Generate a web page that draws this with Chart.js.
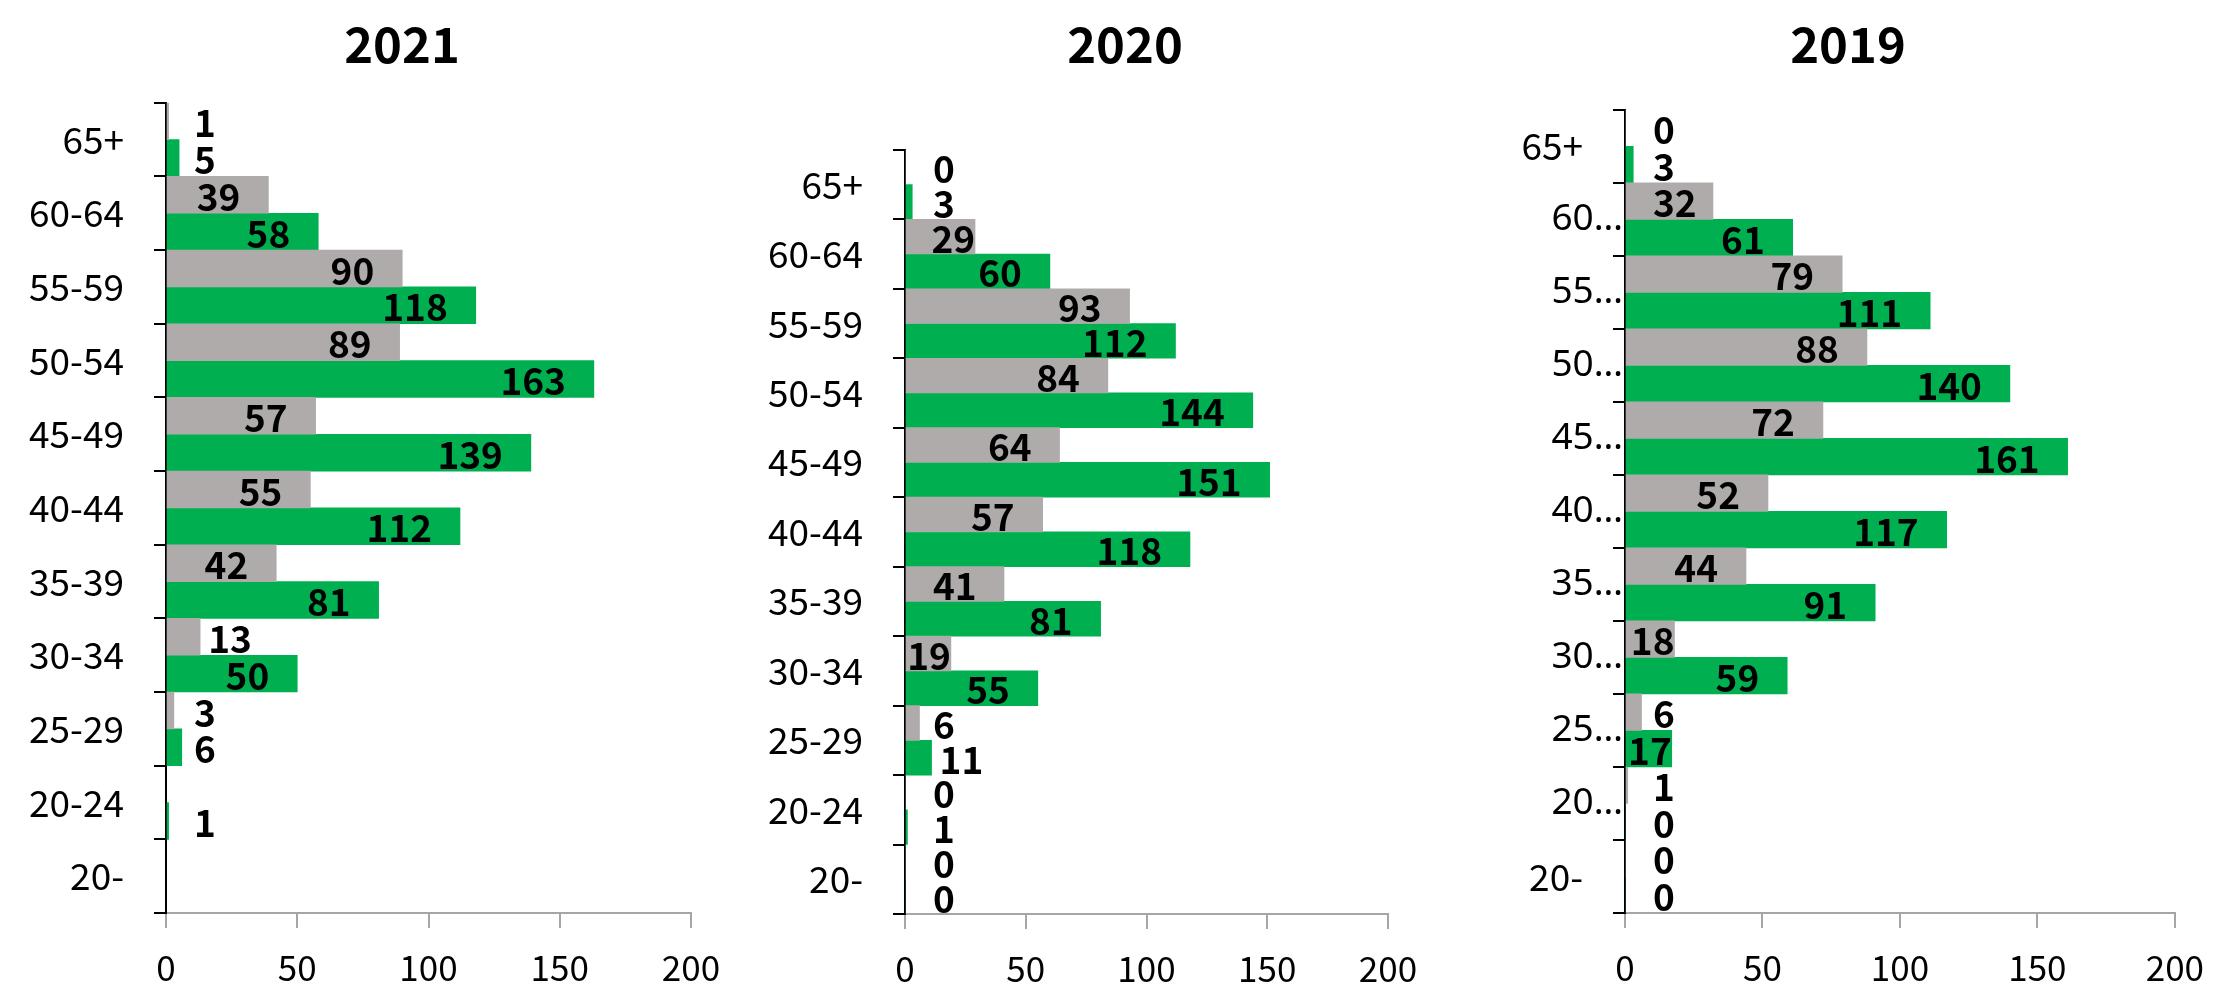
<!DOCTYPE html>
<html><head><meta charset="utf-8">
<script src="https://cdn.jsdelivr.net/npm/chart.js@4/dist/chart.umd.min.js"></script>
<style>
html,body{margin:0;padding:0;background:#fff;width:2223px;height:990px;overflow:hidden}
canvas{position:absolute;top:0}
</style></head><body>
<canvas id="c2021" width="741" height="990" style="left:0px;width:741px;height:990px"></canvas>
<canvas id="c2020" width="741" height="990" style="left:741px;width:741px;height:990px"></canvas>
<canvas id="c2019" width="741" height="990" style="left:1482px;width:741px;height:990px"></canvas>
<script>
// ---- data ----
const categories = ['65+','60-64','55-59','50-54','45-49','40-44','35-39','30-34','25-29','20-24','20-'];
const grey2021  = [1,39,90,89,57,55,42,13,3,null,null];
const green2021 = [5,58,118,163,139,112,81,50,6,1,null];
const grey2020  = [0,29,93,84,64,57,41,19,6,0,0];
const green2020 = [3,60,112,144,151,118,81,55,11,1,0];
const grey2019  = [0,32,79,88,72,52,44,18,6,1,0];
const green2019 = [3,61,111,140,161,117,91,59,17,0,0];
const xTicks = [0,50,100,150,200];

const FONT = "'Noto Sans CJK SC','Noto Sans',sans-serif";
const FONT_LATIN = "'Noto Sans','Noto Sans CJK SC',sans-serif";
Chart.defaults.font.family = FONT;
const GREY = '#AFABAB', GREEN = '#00B050';

// value labels placed like Excel "inside end"
const valueLabels = {
  id: 'valueLabels',
  afterDatasetsDraw(chart) {
    const ctx = chart.ctx;
    const axisX = chart.scales.x.getPixelForValue(0);
    const m = 28;
    ctx.save();
    ctx.font = 'bold 37px ' + FONT;
    ctx.fillStyle = '#000';
    ctx.textAlign = 'left';
    ctx.textBaseline = 'middle';
    chart.data.datasets.forEach((ds, di) => {
      const meta = chart.getDatasetMeta(di);
      meta.data.forEach((el, i) => {
        const v = ds.data[i];
        if (v === null || v === undefined) return;
        const txt = String(v);
        const w = ctx.measureText(txt).width;
        const L = el.x - axisX;
        let left;
        if (L >= w + 2 * m) left = L - m - w;
        else if (L >= w + m) left = m;
        else if (L >= w) left = L - w;
        else left = Math.max(m, L + 8);
        ctx.fillText(txt, axisX + left, el.y + 2);
      });
    });
    ctx.restore();
  }
};

// category labels (Excel truncates long ones when space is tight)
const catLabels = {
  id: 'catLabels',
  afterDraw(chart, args, opts) {
    const ctx = chart.ctx;
    const ys = chart.scales.y;
    const axisX = chart.chartArea.left;
    ctx.save();
    ctx.fillStyle = '#000';
    ctx.textAlign = 'right';
    ctx.textBaseline = 'middle';
    chart.data.labels.forEach((lab, i) => {
      const y = ys.getPixelForValue(i);
      if (opts.truncate && lab.length > 3) {
        ctx.font = '37px ' + FONT_LATIN;
        ctx.fillText(lab.slice(0, 2) + '\u2026', axisX - 2, y);
      } else {
        ctx.font = '37px ' + FONT;
        ctx.fillText(lab, axisX - 42, y);
      }
    });
    ctx.restore();
  }
};

function makeChart(id, title, grey, green, lay) {
  return new Chart(document.getElementById(id), {
    type: 'bar',
    data: {
      labels: categories,
      datasets: [
        { data: grey, backgroundColor: GREY, borderWidth: 0, barPercentage: 1, categoryPercentage: 1 },
        { data: green, backgroundColor: GREEN, borderWidth: 0, barPercentage: 1, categoryPercentage: 1 }
      ]
    },
    options: {
      indexAxis: 'y',
      responsive: false,
      animation: false,
      layout: { padding: { left: lay.pl, right: lay.pr, top: 0, bottom: 0 } },
      plugins: {
        legend: { display: false },
        tooltip: { enabled: false },
        title: {
          display: true, text: title, color: '#000',
          font: { size: 49, weight: 'bold', family: FONT },
          padding: { top: 15, bottom: lay.pb }
        },
        catLabels: { truncate: lay.truncate }
      },
      scales: {
        x: {
          type: 'linear', min: 0, max: 200, position: 'bottom',
          afterBuildTicks: s => { s.ticks = xTicks.map(v => ({ value: v })); },
          ticks: { font: { size: 35 }, color: '#000', padding: 19, maxRotation: 0, autoSkip: false },
          grid: { display: true, drawOnChartArea: false, drawTicks: true, tickLength: 15, color: '#A6A6A6', lineWidth: 2 },
          border: { display: true, color: '#A6A6A6', width: 2 },
          afterFit: s => { s.height = lay.xh; }
        },
        y: {
          type: 'category', offset: true,
          ticks: { display: false },
          grid: { offset: true, drawOnChartArea: false, drawTicks: true, tickLength: 12, color: '#000', lineWidth: 2 },
          border: { display: true, color: '#000', width: 2 },
          afterFit: s => { s.width = lay.yw; }
        }
      }
    },
    plugins: [valueLabels, catLabels]
  });
}

makeChart('c2021', '2021', grey2021, green2021, { pl: 113, pr: 50, pb: 29, yw: 53, xh: 77, truncate: false });
makeChart('c2020', '2020', grey2020, green2020, { pl: 121, pr: 94, pb: 76, yw: 43, xh: 76, truncate: false });
makeChart('c2019', '2019', grey2019, green2019, { pl: 33, pr: 42, pb: 36, yw: 110, xh: 77, truncate: true });
</script>
</body></html>
